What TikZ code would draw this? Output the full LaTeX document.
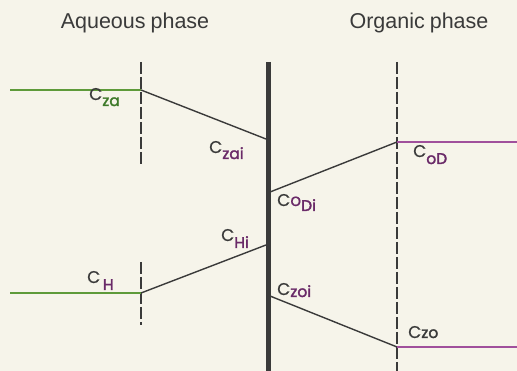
\documentclass[tikz,border=0pt]{standalone}
\usepackage{fontspec}
\setmainfont{Liberation Sans}
\newfontfamily\lblfont{Poppins}[FakeBold=0.6]
\newfontfamily\lblbold{Poppins}[FakeBold=2]
\definecolor{paper}{HTML}{F6F4EA}
\definecolor{ink}{HTML}{3A3A3A}
\definecolor{aqgreen}{HTML}{5E9A3A}
\definecolor{orgpurple}{HTML}{A0509C}
\definecolor{subpurple}{HTML}{6A2A68}
\definecolor{subgreen}{HTML}{3E7A2A}
\tikzset{
  title/.style={font=\fontsize{21.5}{24}\selectfont, text=ink, inner sep=0pt, anchor=base},
  lbl/.style={font=\lblfont\fontsize{17}{19}\selectfont, text=ink, inner sep=0pt, anchor=base west},
  membrane/.style={draw=ink, line width=5pt},
  filmline/.style={draw=ink, line width=1.1pt, dash pattern=on 12pt off 3pt},
  slope/.style={draw=ink, line width=1.4pt},
  aqline/.style={draw=aqgreen, line width=1.5pt},
  orgline/.style={draw=orgpurple, line width=1.5pt},
}
\newcommand{\sbt}[2]{\raisebox{-#2}{{\lblbold\fontsize{15.5}{17}\selectfont #1}}}
\begin{document}
\begin{tikzpicture}[x=1pt,y=-1pt]
\fill[paper] (0,0) rectangle (517,371);
\useasboundingbox (0,0) rectangle (517,371);
% titles
\node[title] (aq) at (135,29) {Aqueous\hspace{-1pt} phase};
\node[title] (org) at (419,29) {Organic\hspace{-1pt} phase};
% coordinates
\coordinate (mt) at (268,62);
\coordinate (mb) at (268,371);
\coordinate (lt1) at (141,62);
\coordinate (lb1) at (141,166);
\coordinate (lt2) at (141,262);
\coordinate (lb2) at (141,325);
\coordinate (rt) at (397,62);
\coordinate (rb) at (397,371);
\coordinate (za0) at (10,90);
\coordinate (za) at (141,90);
\coordinate (zai) at (266,139);
\coordinate (odi) at (270,192);
\coordinate (od) at (397,142);
\coordinate (od1) at (517,142);
\coordinate (h0) at (10,293);
\coordinate (h) at (141,293);
\coordinate (hi) at (266,245);
\coordinate (zoi) at (270,296);
\coordinate (zo) at (397,347);
\coordinate (zo1) at (517,347);
% dashed film boundaries
\draw[filmline] (lt1) -- (lb1);
\draw[filmline] (lt2) -- (lb2);
\draw[filmline] (rt) -- (rb);
% concentration profiles
\draw[aqline] (za0) -- (za);
\draw[slope] (za) -- (zai);
\draw[slope] (odi) -- (od);
\draw[orgline] (od) -- (od1);
\draw[aqline] (h0) -- (h);
\draw[slope] (h) -- (hi);
\draw[slope] (zoi) -- (zo);
\draw[orgline] (zo) -- (zo1);
% membrane
\draw[membrane] (mt) -- (mb);
% labels
\node[lbl] (lza) at (89,100) {C\textcolor{subgreen}{\sbt{za}{6pt}}};
\node[lbl] (lzai) at (209,153) {C\textcolor{subpurple}{\sbt{zai}{6pt}}};
\node[lbl] (lod) at (413,157) {C\textcolor{subpurple}{\sbt{oD}{7pt}}};
\node[lbl] (lodi) at (277,206) {C\textcolor{subpurple}{o\sbt{Di}{5pt}}};
\node[lbl] (lhi) at (221,241) {C\textcolor{subpurple}{\sbt{Hi}{7pt}}};
\node[lbl] (lh) at (87,283) {C\textcolor{subpurple}{\sbt{\,H}{7pt}}};
\node[lbl] (lzoi) at (277,295) {C\textcolor{subpurple}{\sbt{zoi}{2pt}}};
\node[lbl] (lzo) at (408,338) {C\textcolor{ink}{\sbt{zo}{0pt}}};
\end{tikzpicture}
\end{document}
